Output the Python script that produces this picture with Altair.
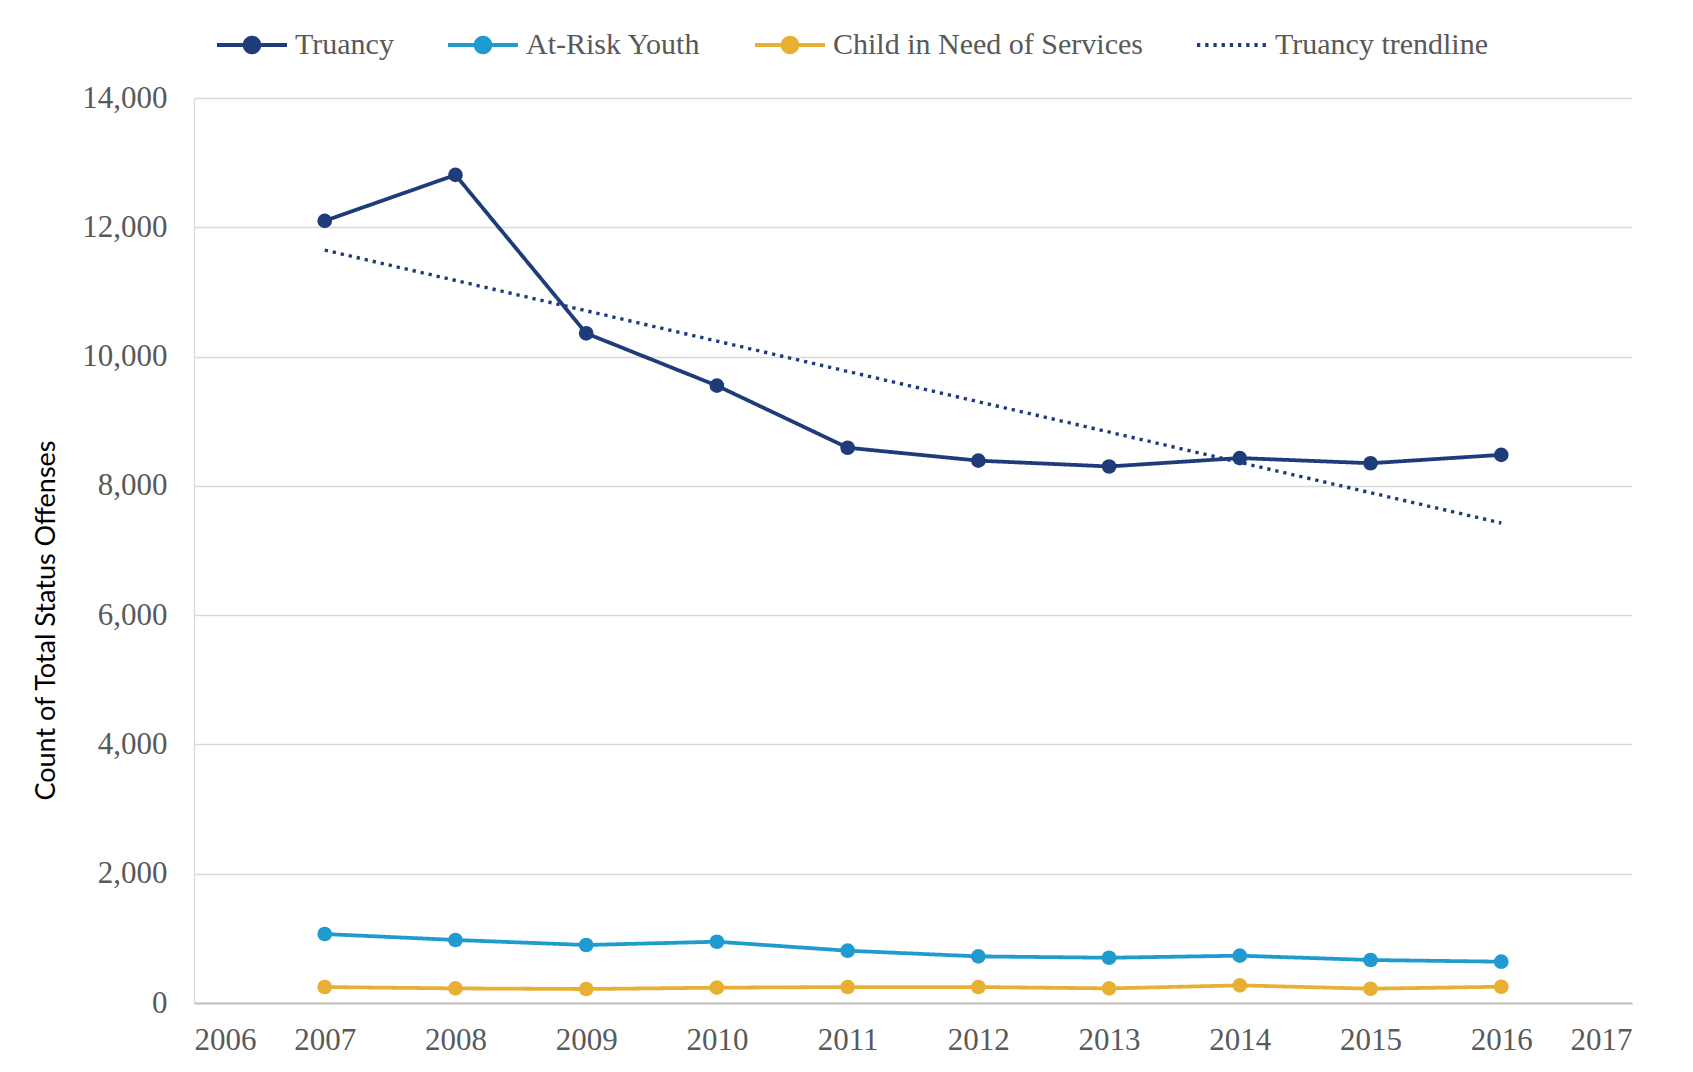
import altair as alt
import pandas as pd

years = [2007, 2008, 2009, 2010, 2011, 2012, 2013, 2014, 2015, 2016]
truancy = [12100, 12810, 10360, 9550, 8590, 8390, 8300, 8430, 8350, 8480]
at_risk = [1067, 975, 897, 948, 809, 721, 700, 732, 665, 639]
chins = [247, 226, 216, 237, 247, 247, 226, 273, 221, 252]

series_names = ["Truancy", "At-Risk Youth", "Child in Need of Services", "Truancy trendline"]
series_colors = ["#1F3C7A", "#1F9BCF", "#E8B033", "#1F3C7A"]
x_ticks = list(range(2006, 2018))
y_ticks = list(range(0, 14001, 2000))

rows = []
for name, vals in zip(series_names[:3], [truancy, at_risk, chins]):
    for yr, v in zip(years, vals):
        rows.append({"year": yr, "value": v, "series": name})
df = pd.DataFrame(rows)

SERIF = "Liberation Serif"
GRAY = "#595959"

PT = "M-1,0H1M0.21,0A0.21,0.21,0,1,1,-0.21,0A0.21,0.21,0,1,1,0.21,0Z"
LN = "M-1,0H1"

cscale = alt.Scale(domain=series_names, range=series_colors)
sscale = alt.Scale(domain=series_names, range=[PT, PT, PT, LN])
dscale = alt.Scale(domain=series_names, range=[[1, 0], [1, 0], [1, 0], [3.3, 4.9]])

leg = alt.Legend(title=None, orient="none", direction="horizontal", legendX=21, legendY=-90,
                 labelFont=SERIF, labelFontSize=30, labelColor=GRAY, labelOffset=6,
                 columnPadding=46, symbolSize=4900, symbolStrokeWidth=3.8, labelLimit=600)

x = alt.X("year:Q", scale=alt.Scale(domain=[2006, 2017], nice=False, zero=False),
          axis=alt.Axis(values=x_ticks, format="d", title=None, grid=False, ticks=False,
                        domainColor="#BFBFBF", domainWidth=2, labelPadding=22,
                        labelFont=SERIF, labelFontSize=31, labelColor=GRAY))
y = alt.Y("value:Q", scale=alt.Scale(domain=[0, 14000], nice=False),
          axis=alt.Axis(values=y_ticks, format=",.0f", title="Count of Total Status Offenses",
                        grid=True, gridColor="#D9D9D9", gridWidth=1.3, ticks=False,
                        domainColor="#D9D9D9", domainWidth=1.3, labelPadding=27,
                        labelFont=SERIF, labelFontSize=31, labelColor=GRAY,
                        titleFont="Lato", titleFontSize=27, titleFontWeight="normal",
                        titleColor="#000000", titleX=-148, titleY=522, titleAngle=-90,
                        titleAlign="center", titleBaseline="middle"))

color = alt.Color("series:N", scale=cscale, legend=leg)
dash = alt.StrokeDash("series:N", scale=dscale, legend=leg)
shape = alt.Shape("series:N", scale=sscale, legend=leg)

legend_layer = alt.Chart(df).transform_filter("false").mark_point(
    filled=True, size=4900, opacity=1, strokeWidth=3.8
).encode(x=x, y=y, color=color, shape=shape, strokeDash=dash)

lines = alt.Chart(df).mark_line(strokeWidth=3.8).encode(
    x=x, y=y, color=color, strokeDash=dash, detail="series:N")

trend = alt.Chart(df).transform_filter("datum.series == 'Truancy'").transform_regression(
    "year", "value", method="linear"
).transform_calculate(series="'Truancy trendline'").mark_line(strokeWidth=3.4).encode(
    x=x, y=y, color=color, strokeDash=dash)

points = alt.Chart(df).mark_circle(size=215, opacity=1).encode(x=x, y=y, color=color)

chart = alt.layer(legend_layer, trend, lines, points).properties(
    width=1438, height=905,
    padding={"left": 24, "top": 0, "right": 5, "bottom": 5},
).configure(background="white").configure_view(stroke=None)

chart.save("out.html", embed_options={"renderer": "svg", "actions": False})
